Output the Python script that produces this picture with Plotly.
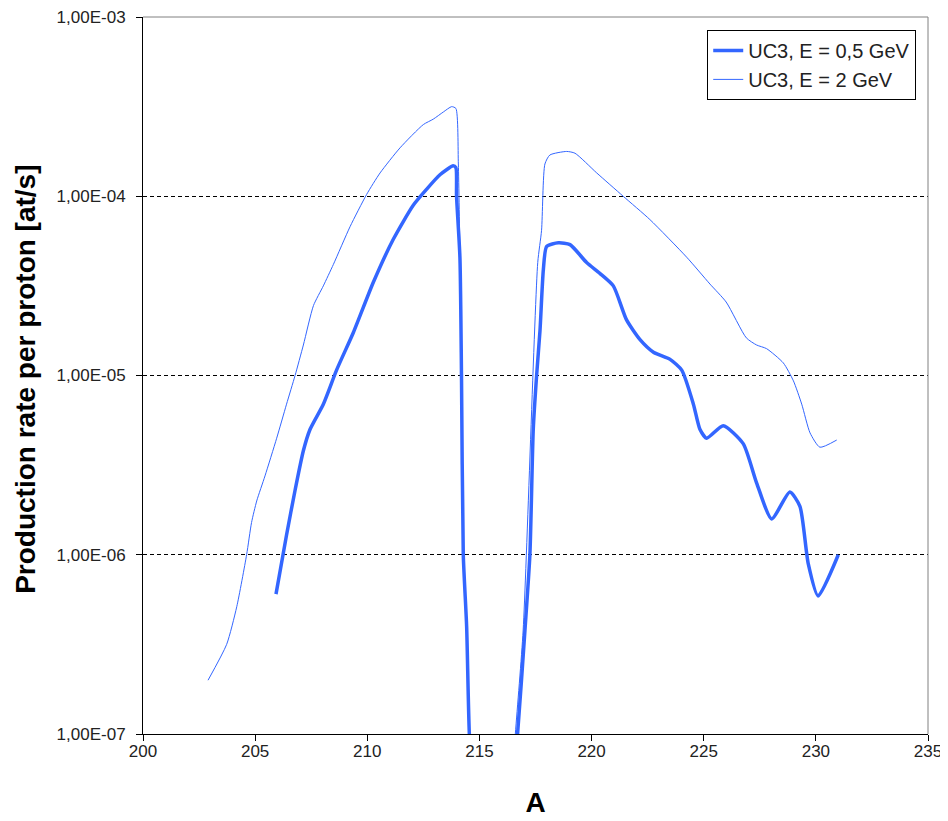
import plotly.graph_objects as go

# 0.5 GeV series (thick)
a_05 = [205.93, 206.4, 206.78, 207.15, 207.45, 208.04, 208.63, 209.38, 210.27, 211.16, 212.05,
        212.65, 213.24, 213.83, 213.95, 213.98, 214.13, 214.2, 214.28, 214.43, 214.55, 215.0,
        216.0, 216.7, 217.03, 217.25, 217.4, 217.55, 217.7, 217.85, 218.0, 218.52, 219.04,
        219.78, 220.37, 220.97, 221.56, 222.16, 222.76, 223.5, 224.02, 224.54, 224.83, 225.13,
        225.87, 226.76, 227.36, 228.03, 228.84, 229.29, 229.66, 230.1, 231.0]
log_05 = [-6.22, -5.89, -5.64, -5.42, -5.30, -5.16, -4.97, -4.76, -4.48, -4.24, -4.05,
          -3.96, -3.88, -3.83, -3.84, -4.0, -4.34, -5.0, -6.0, -6.4, -7.0, -8.0,
          -8.0, -7.0, -6.42, -6.0, -5.30, -5.0, -4.75, -4.41, -4.28, -4.26, -4.27,
          -4.37, -4.43, -4.50, -4.69, -4.80, -4.87, -4.91, -4.97, -5.16, -5.30, -5.35,
          -5.28, -5.38, -5.60, -5.80, -5.65, -5.73, -6.05, -6.23, -6.0]

# 2 GeV series (thin)
a_2 = [202.9, 203.73, 204.18, 204.62, 204.84, 205.07, 205.44, 205.96, 206.4, 206.78, 207.15,
       207.6, 208.04, 208.49, 209.23, 209.97, 210.57, 211.46, 212.5, 212.94, 213.39, 213.76,
       213.95, 214.06, 214.13, 214.2, 214.28, 214.43, 214.55, 215.0, 216.0, 216.6, 216.95,
       217.6, 217.77, 217.92, 218.14, 218.89, 219.26, 220.23, 221.41, 222.6, 224.24, 225.28,
       226.0, 226.9, 227.36, 227.8, 228.55, 229.0, 229.37, 229.74, 230.18, 230.93]
log_2 = [-6.70, -6.50, -6.29, -6.0, -5.82, -5.70, -5.56, -5.35, -5.16, -5.0, -4.83,
         -4.61, -4.50, -4.38, -4.17, -3.99, -3.87, -3.73, -3.60, -3.57, -3.53, -3.50,
         -3.51, -3.82, -4.34, -5.0, -6.0, -6.4, -7.0, -8.0, -8.0, -7.0, -6.42,
         -4.37, -4.19, -3.82, -3.77, -3.75, -3.76, -3.87, -4.0, -4.13, -4.34, -4.49,
         -4.59, -4.79, -4.83, -4.85, -4.93, -5.03, -5.16, -5.32, -5.40, -5.36]

y_ticks = [1e-7, 1e-6, 1e-5, 1e-4, 1e-3]
y_labels = ["1,00E-07", "1,00E-06", "1,00E-05", "1,00E-04", "1,00E-03"]
x_ticks = [200, 205, 210, 215, 220, 225, 230, 235]

blue = "#3366FF"
font = "Liberation Sans, Arial, sans-serif"

fig = go.Figure()
fig.add_trace(go.Scatter(x=a_05, y=[10 ** v for v in log_05], mode="lines",
                         name="UC3, E = 0,5 GeV", legendgroup="a",
                         line=dict(color=blue, width=3.5, shape="spline", smoothing=0.6)))
fig.add_trace(go.Scatter(x=a_2, y=[10 ** v for v in log_2], mode="lines",
                         name="UC3, E = 2 GeV", legendgroup="b",
                         line=dict(color=blue, width=1, shape="spline", smoothing=0.6)))

# page body has an 8px margin, so the figure is 940x813 and margins are shifted
fig.update_layout(
    width=940, height=813,
    margin=dict(l=135, r=20, t=9, b=87),
    paper_bgcolor="white", plot_bgcolor="white",
    font=dict(family=font, size=17, color="black"),
    showlegend=True,
    legend=dict(x=0.985, y=0.982, xanchor="right", yanchor="top",
                bordercolor="black", borderwidth=1, bgcolor="white",
                font=dict(size=20, family=font, color="#222222"), tracegroupgap=0),
    xaxis=dict(range=[200, 235], tickvals=x_ticks, ticks="outside", ticklen=6,
               tickcolor="black", showline=True, linecolor="black", linewidth=1,
               showgrid=False, zeroline=False, automargin=False,
               ticklabelstandoff=-4, ticklabeloverflow="allow",
               title=dict(text="<b>A</b>", font=dict(size=28, family=font), standoff=31),
               tickfont=dict(size=17, color="#222222")),
    yaxis=dict(type="log", range=[-7, -3], tickvals=y_ticks, ticktext=y_labels,
               ticks="outside", ticklen=6, tickcolor="black",
               showline=True, linecolor="black", linewidth=1,
               showgrid=True, gridcolor="black", gridwidth=1, griddash="4px,3px",
               zeroline=False, automargin=False, ticklabelstandoff=7,
               ticklabeloverflow="allow",
               tickfont=dict(size=17, color="#222222")),
    annotations=[
        dict(text="<b>Production rate per proton [at/s]</b>", textangle=-90,
             xref="paper", yref="paper", x=-0.149, y=0.494,
             xanchor="center", yanchor="middle", showarrow=False,
             font=dict(size=28, family=font, color="black")),
    ],
    shapes=[
        dict(type="line", xref="paper", yref="paper", x0=0, x1=1, y0=1, y1=1,
             line=dict(color="#808080", width=1), layer="above"),
        dict(type="line", xref="paper", yref="paper", x0=1, x1=1, y0=0, y1=1,
             line=dict(color="#808080", width=1), layer="above"),
    ],
)

fig.write_html("out.html")
